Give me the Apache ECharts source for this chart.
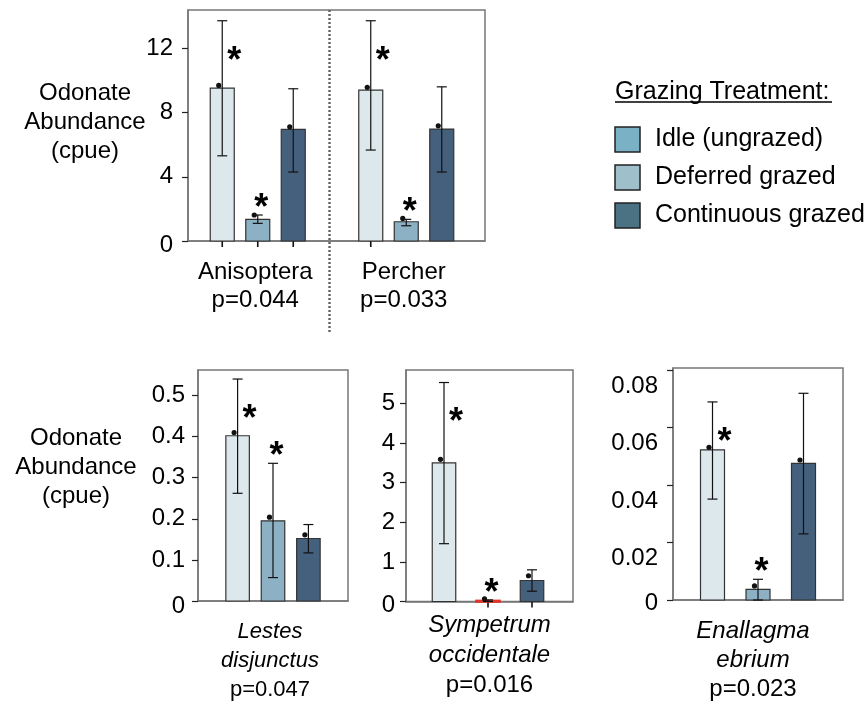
<!DOCTYPE html>
<html>
<head>
<meta charset="utf-8">
<script src="https://cdn.jsdelivr.net/npm/echarts@6/dist/echarts.min.js"></script>
<style>
  html, body { margin: 0; padding: 0; background: #fff; }
  #chart { width: 867px; height: 705px; }
</style>
</head>
<body>
<div id="chart"></div>
<script>
// ---- data -------------------------------------------------------------
const TREATMENTS = ['Idle (ungrazed)', 'Deferred grazed', 'Continuous grazed'];
const Y_TITLE = 'Odonate\nAbundance\n(cpue)';

// upper panel: Anisoptera and perchers (values ordered Idle, Deferred, Continuous)
const upperGroups = ['Anisoptera', 'Percher'];
const upperPValues = ['p=0.044', 'p=0.033'];
const upperTicks = [0, 4, 8, 12];

const anisopteraMean = [9.53, 1.35, 6.96];
const anisopteraLow  = [5.31, 1.10, 4.30];
const anisopteraHigh = [13.73, 1.62, 9.49];
const anisopteraDot  = [9.70, 1.62, 7.12];
const anisopteraSig  = [true, true, false];

const percherMean = [9.41, 1.20, 6.98];
const percherLow  = [5.67, 0.95, 4.30];
const percherHigh = [13.73, 1.35, 9.61];
const percherDot  = [9.58, 1.41, 7.18];
const percherSig  = [true, true, false];

// lower panels: single species
const lestesName  = ['Lestes', 'disjunctus'];
const lestesP     = 'p=0.047';
const lestesTicks = [0, 0.1, 0.2, 0.3, 0.4, 0.5];
const lestesMean  = [0.402, 0.195, 0.152];
const lestesLow   = [0.262, 0.057, 0.117];
const lestesHigh  = [0.540, 0.335, 0.186];
const lestesDot   = [0.410, 0.204, 0.161];
const lestesSig   = [true, true, false];

const sympetrumName  = ['Sympetrum', 'occidentale'];
const sympetrumP     = 'p=0.016';
const sympetrumTicks = [0, 1, 2, 3, 4, 5];
const sympetrumMean  = [3.50, 0.02, 0.53];
const sympetrumLow   = [1.46, 0.00, 0.26];
const sympetrumHigh  = [5.53, 0.04, 0.80];
const sympetrumDot   = [3.59, 0.07, 0.65];
const sympetrumSig   = [true, true, false];

const enallagmaName  = ['Enallagma', 'ebrium'];
const enallagmaP     = 'p=0.023';
const enallagmaTicks = [0, 0.02, 0.04, 0.06, 0.08];
const enallagmaMean  = [0.0522, 0.0037, 0.0475];
const enallagmaLow   = [0.0351, 0.0000, 0.0230];
const enallagmaHigh  = [0.0689, 0.0072, 0.0719];
const enallagmaDot   = [0.0531, 0.0049, 0.0487];
const enallagmaSig   = [true, true, false];

// ---- styling ----------------------------------------------------------
const FONT = '"Liberation Sans", Arial, Helvetica, sans-serif';
const BAR_COLORS = ['#dde8ed', '#8cb1c5', '#45607c'];
const LEGEND_COLORS = ['#7bb1c4', '#9fbfca', '#4a7283'];
const BAR_BORDER = '#333';
const FRAME = '#777';

function group(mean, low, high, dot, sig) {
  return { mean, low, high, dot, sig };
}

const panels = [
  {
    grid: { left: 188, top: 10, width: 297, height: 231 },
    yMax: 14.4, ticks: upperTicks, tickMargin: 15, zeroShift: 4, labelShift: 0,
    categories: upperGroups,
    labels: upperGroups.map((g, i) => '{n|' + g + '}\n{n|' + upperPValues[i] + '}'),
    labelFont: 24, labelLine: 28, labelMargin: 17, labelPadRight: 14,
    groups: [
      group(anisopteraMean, anisopteraLow, anisopteraHigh, anisopteraDot, anisopteraSig),
      group(percherMean, percherLow, percherHigh, percherDot, percherSig)
    ],
    spacing: 35.5, shift: -4.5, barWidth: 24,
    baseTicks: [[true, true, true], [true, false, false]],
    title: { x: 85, y: 122.5 }
  },
  {
    grid: { left: 198, top: 370, width: 150, height: 231 },
    yMax: 0.562, ticks: lestesTicks, tickMargin: 13, zeroShift: 5, labelShift: 0,
    categories: [lestesName.join(' ')],
    labels: ['{i|' + lestesName[0] + '}\n{i|' + lestesName[1] + '}\n{n|' + lestesP + '}'],
    labelFont: 22, labelLine: 29, labelMargin: 16, labelPadRight: 6,
    groups: [group(lestesMean, lestesLow, lestesHigh, lestesDot, lestesSig)],
    spacing: 35.4, shift: 0, barWidth: 23.5,
    title: { x: 76, y: 467 }
  },
  {
    grid: { left: 406, top: 370, width: 167, height: 231.5 },
    yMax: 5.846, ticks: sympetrumTicks, tickMargin: 11, zeroShift: 4, labelShift: 0,
    categories: [sympetrumName.join(' ')],
    labels: ['{i|' + sympetrumName[0] + '}\n{i|' + sympetrumName[1] + '}\n{n|' + sympetrumP + '}'],
    labelFont: 24, labelLine: 30, labelMargin: 8.5, labelPadRight: 0,
    groups: [group(sympetrumMean, sympetrumLow, sympetrumHigh, sympetrumDot, sympetrumSig)],
    spacing: 44, shift: -1.5, barWidth: 23.5,
    outline: [null, '#e3342a', null],
    baseTicks: [[false, true, true]]
  },
  {
    grid: { left: 673, top: 368, width: 170, height: 232 },
    yMax: 0.0807, ticks: enallagmaTicks, tickMargin: 15, zeroShift: 3, labelShift: 16,
    categories: [enallagmaName.join(' ')],
    labels: ['{i|' + enallagmaName[0] + '}\n{i|' + enallagmaName[1] + '}\n{n|' + enallagmaP + '}'],
    labelFont: 24, labelLine: 29, labelMargin: 17, labelPadRight: 10,
    groups: [group(enallagmaMean, enallagmaLow, enallagmaHigh, enallagmaDot, enallagmaSig)],
    spacing: 45.5, shift: 0, barWidth: 24
  }
];

// ---- rendering of bars, error bars, mean dots and significance stars ----
function makeRenderer(panel, t) {
  return function (params, api) {
    const gi = api.value(0);
    const mean = api.value(1), lo = api.value(2), hi = api.value(3), dot = api.value(4), sig = api.value(5);
    const base = api.coord([gi, 0]);
    const cx = base[0] + panel.shift + (t - 1) * panel.spacing;
    const y0 = base[1];
    const yMean = api.coord([gi, mean])[1];
    const yLo = api.coord([gi, lo])[1];
    const yHi = api.coord([gi, hi])[1];
    const yDot = api.coord([gi, dot])[1];
    const w = panel.barWidth;
    const cap = 5;
    const special = panel.outline && panel.outline[t];
    const children = [];
    if (panel.baseTicks && panel.baseTicks[gi] && panel.baseTicks[gi][t]) {
      children.push({ type: 'line', shape: { x1: cx, y1: y0, x2: cx, y2: y0 + 6 }, style: { stroke: '#111', lineWidth: 1.6 } });
    }
    children.push(
      {
        type: 'rect',
        shape: { x: cx - w / 2, y: yMean, width: w, height: Math.max(y0 - yMean, 1) },
        style: { fill: BAR_COLORS[t], stroke: special || BAR_BORDER, lineWidth: special ? 2.2 : 1.2 }
      },
      { type: 'line', shape: { x1: cx, y1: yHi, x2: cx, y2: yLo }, style: { stroke: '#111', lineWidth: 1.2 } },
      { type: 'line', shape: { x1: cx - cap, y1: yHi, x2: cx + cap, y2: yHi }, style: { stroke: '#111', lineWidth: 1.2 } },
      { type: 'line', shape: { x1: cx - cap, y1: yLo, x2: cx + cap, y2: yLo }, style: { stroke: '#111', lineWidth: 1.2 } },
      { type: 'circle', shape: { cx: cx - 3.5, cy: yDot, r: 2.6 }, style: { fill: '#111' } }
    );
    if (sig) {
      // asterisk beside tall bars, above short ones; the glyph sits high in its line box
      const side = t === 0;
      children.push({
        type: 'text',
        style: {
          text: '*',
          x: cx + (side ? 12 : 3.5),
          y: (side ? yHi + 26 : yHi - 21) + 15,
          fontSize: 36, fontWeight: 'bold', fontFamily: FONT, fill: '#000',
          align: 'center', verticalAlign: 'middle'
        }
      });
    }
    return { type: 'group', children };
  };
}

const grids = [], xAxes = [], yAxes = [], series = [], titles = [];

panels.forEach((p, i) => {
  grids.push(Object.assign({ show: true, borderColor: FRAME, borderWidth: 1.5, backgroundColor: 'transparent' }, p.grid));

  const catRich = {
    n: { fontSize: p.labelFont, lineHeight: p.labelLine, fontFamily: FONT, color: '#000' },
    i: { fontSize: p.labelFont, lineHeight: p.labelLine, fontFamily: FONT, color: '#000', fontStyle: 'italic' }
  };
  xAxes.push({
    gridIndex: i,
    type: 'category',
    data: p.categories,
    axisTick: { show: false },
    axisLine: { lineStyle: { color: FRAME, width: 1.5 } },
    axisLabel: {
      interval: 0,
      margin: p.labelMargin,
      padding: [0, p.labelPadRight, 0, 0],
      formatter: (v, idx) => p.labels[idx],
      rich: catRich
    }
  });

  const tickRich = {
    z: { fontSize: 24, fontFamily: FONT, color: '#000', padding: [p.zeroShift * 2, 0, 0, 0] },
    n: { fontSize: 24, fontFamily: FONT, color: '#000', padding: [p.labelShift * 2, 0, 0, 0] }
  };
  yAxes.push({
    gridIndex: i,
    type: 'value',
    min: 0,
    max: p.yMax,
    splitLine: { show: false },
    axisLine: { show: true, lineStyle: { color: FRAME, width: 1.5 } },
    axisTick: { show: true, length: 6, customValues: p.ticks, lineStyle: { color: '#222', width: 1.2 } },
    axisLabel: {
      customValues: p.ticks,
      margin: p.tickMargin,
      formatter: v => (v === 0 ? '{z|0}' : '{n|' + v + '}'),
      rich: tickRich
    }
  });

  if (p.title) {
    titles.push({
      type: 'text',
      style: {
        text: Y_TITLE, x: p.title.x, y: p.title.y,
        fontSize: 24, lineHeight: 29, fontFamily: FONT, fill: '#000',
        align: 'center', verticalAlign: 'middle'
      }
    });
  }

  TREATMENTS.forEach((name, t) => {
    series.push({
      type: 'custom',
      name,
      xAxisIndex: i,
      yAxisIndex: i,
      encode: { x: 0, y: 1 },
      silent: true,
      data: p.groups.map((g, gi) => [gi, g.mean[t], g.low[t], g.high[t], g.dot[t], g.sig[t] ? 1 : 0]),
      renderItem: makeRenderer(p, t)
    });
  });
});

// legend block and group separator
const legendItems = TREATMENTS.map((name, t) => ({
  type: 'group',
  children: [
    {
      type: 'rect',
      shape: { x: 615, y: 127 + t * 38, width: 25, height: 25 },
      style: { fill: LEGEND_COLORS[t], stroke: '#222', lineWidth: 1.5 }
    },
    {
      type: 'text',
      style: {
        text: name, x: 655, y: 139 + t * 38,
        fontSize: 25, fontFamily: FONT, fill: '#000', verticalAlign: 'middle'
      }
    }
  ]
}));

const chart = echarts.init(document.getElementById('chart'), null, { renderer: 'canvas' });
chart.setOption({
  animation: false,
  backgroundColor: '#fff',
  textStyle: { fontFamily: FONT },
  grid: grids,
  xAxis: xAxes,
  yAxis: yAxes,
  series,
  graphic: [
    {
      type: 'line',
      shape: { x1: 329.5, y1: 10, x2: 329.5, y2: 333 },
      style: { stroke: '#666', lineWidth: 2.5, lineDash: [2, 2] }
    },
    {
      type: 'text',
      style: {
        text: 'Grazing Treatment:', x: 615, y: 92,
        fontSize: 25, fontFamily: FONT, fill: '#000', verticalAlign: 'middle'
      }
    },
    {
      type: 'line',
      shape: { x1: 615, y1: 102, x2: 832, y2: 102 },
      style: { stroke: '#000', lineWidth: 1.5 }
    }
  ].concat(titles, legendItems)
});
</script>
</body>
</html>
